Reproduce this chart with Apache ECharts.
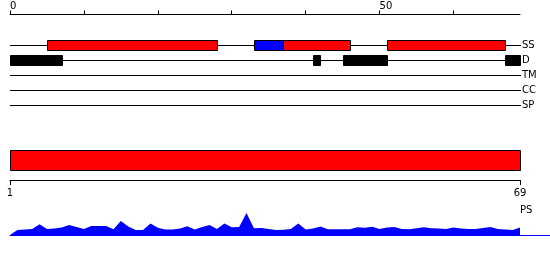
<!DOCTYPE html>
<html><head><meta charset="utf-8">
<script src="https://cdn.jsdelivr.net/npm/echarts@6/dist/echarts.min.js"></script>
<style>html,body{margin:0;padding:0;background:#fff}#c{width:550px;height:260px}</style>
</head><body><div id="c"></div>
<script>
// ---- data ----
const tracks = ['SS', 'D', 'TM', 'CC', 'SP'];
const topExtent = [0, 69];
const topTicks = [0, 10, 20, 30, 40, 50, 60];
const topLabels = [0, 50];
const ssStart = [5, 33, 37, 51];
const ssEnd = [28, 37, 46, 67];
const ssType = ['helix', 'strand', 'helix', 'helix'];
const dStart = [0, 41, 45, 67];
const dEnd = [7, 42, 51, 69];
const psRange = [1, 69];
const bottomLabels = [1, 69];
const psName = 'PS';
const psValues = [0, 5, 5.5, 6, 10.7, 6, 6.5, 7.5, 10, 8,
  6, 9, 9, 9, 5.7, 14, 8.5, 5, 5, 11.5,
  7.2, 5.5, 5.5, 6.5, 8.8, 5.5, 8, 10, 6, 11.5,
  7.8, 8, 22, 6.8, 7, 6, 5, 5.3, 6, 11.5,
  5.5, 6.5, 8.5, 5.8, 5.8, 5.8, 5.8, 7.8, 7.2, 8.2,
  6, 7.5, 8, 6, 5.7, 6.8, 7.8, 6.8, 6.5, 6,
  7.5, 6.5, 6, 6, 7, 8, 6, 5.5, 5, 7.5];

// ---- styles ----
const FONT = 'DejaVu Sans';
const typeColor = { helix: '#ff0000', strand: '#0000ff' };

const chart = echarts.init(document.getElementById('c'), null, { renderer: 'canvas' });

function boxItem(fill) {
  return function (params, api) {
    const s = api.coord([api.value(0), api.value(2)]);
    const e = api.coord([api.value(1), api.value(2)]);
    const x0 = Math.round(s[0]) + 0.5, x1 = Math.round(e[0]) + 0.5;
    const y0 = Math.round(s[1] - 5) + 0.5;
    return {
      type: 'rect',
      shape: { x: x0, y: y0, width: x1 - x0, height: 10 },
      style: { fill: fill(params.dataIndex), stroke: '#000', lineWidth: 1 }
    };
  };
}

const option = {
  animation: false,
  backgroundColor: '#fff',
  title: {
    text: psName, left: 520, top: 205, padding: 0,
    textStyle: { fontFamily: FONT, fontSize: 10, fontWeight: 'normal', color: '#000' }
  },
  grid: [
    { left: 10, width: 510, top: 37.5, height: 75 },
    { left: 10, width: 510, top: 150, height: 20 },
    { left: 10, right: 0, top: 205, height: 30 }
  ],
  xAxis: [
    {
      gridIndex: 0, type: 'value', min: topExtent[0], max: topExtent[1], position: 'top', offset: 23,
      axisLine: { show: true, lineStyle: { color: '#000', width: 1 } },
      axisTick: { show: true, customValues: topTicks, length: 4, lineStyle: { color: '#000' } },
      axisLabel: { customValues: topLabels, align: 'left', margin: 3, fontFamily: FONT, fontSize: 10, color: '#000' },
      splitLine: { show: false }
    },
    {
      gridIndex: 1, type: 'value', min: psRange[0], max: psRange[1], position: 'bottom', offset: 10,
      axisLine: { show: true, lineStyle: { color: '#000', width: 1 } },
      axisTick: { show: true, customValues: bottomLabels, length: 5, lineStyle: { color: '#000' } },
      axisLabel: { customValues: bottomLabels, margin: 8, fontFamily: FONT, fontSize: 10, color: '#000' },
      splitLine: { show: false }
    },
    {
      gridIndex: 2, type: 'value', min: topExtent[0], max: topExtent[1] * 540 / 510,
      axisLine: { show: true, lineStyle: { color: '#0000ff', width: 1 } },
      axisTick: { show: false }, axisLabel: { show: false }, splitLine: { show: false }
    }
  ],
  yAxis: [
    {
      gridIndex: 0, type: 'category', data: tracks, inverse: true, position: 'right',
      axisLine: { show: false }, axisTick: { show: false },
      axisLabel: { margin: 2, fontFamily: FONT, fontSize: 10, color: '#000' },
      splitLine: { show: false }
    },
    {
      gridIndex: 1, type: 'category', data: [psName], show: false
    },
    {
      gridIndex: 2, type: 'value', min: 0, max: 30, show: false
    }
  ],
  series: [
    {
      type: 'custom', xAxisIndex: 0, yAxisIndex: 0,
      data: tracks.map((t, k) => [topExtent[0], topExtent[1], k]),
      renderItem: function (params, api) {
        const s = api.coord([api.value(0), api.value(2)]);
        const e = api.coord([api.value(1), api.value(2)]);
        const y = Math.round(s[1]) + 0.5;
        return {
          type: 'line',
          shape: { x1: s[0], y1: y, x2: e[0] + 1, y2: y },
          style: { stroke: '#000', lineWidth: 1 }
        };
      }
    },
    {
      type: 'custom', xAxisIndex: 0, yAxisIndex: 0,
      data: ssStart.map((s, i) => [s, ssEnd[i], 0]),
      renderItem: boxItem(i => typeColor[ssType[i]])
    },
    {
      type: 'custom', xAxisIndex: 0, yAxisIndex: 0,
      data: dStart.map((s, i) => [s, dEnd[i], 1]),
      renderItem: boxItem(() => '#000')
    },
    {
      type: 'custom', xAxisIndex: 1, yAxisIndex: 1,
      data: [[psRange[0], psRange[1], 0]],
      renderItem: function (params, api) {
        const s = api.coord([api.value(0), api.value(2)]);
        const e = api.coord([api.value(1), api.value(2)]);
        const h = api.size([0, 1])[1];
        const x0 = Math.round(s[0]) + 0.5, x1 = Math.round(e[0]) + 0.5;
        const y0 = Math.round(s[1] - h / 2) + 0.5;
        return {
          type: 'rect',
          shape: { x: x0, y: y0, width: x1 - x0, height: Math.round(h) },
          style: { fill: '#ff0000', stroke: '#000', lineWidth: 1 }
        };
      }
    },
    {
      type: 'line', xAxisIndex: 2, yAxisIndex: 2,
      data: psValues.map((v, i) => [i, v]),
      symbol: 'none',
      lineStyle: { width: 0, opacity: 0 },
      areaStyle: { color: '#0000ff', opacity: 1 }
    }
  ]
};
chart.setOption(option);
</script>
</body></html>
